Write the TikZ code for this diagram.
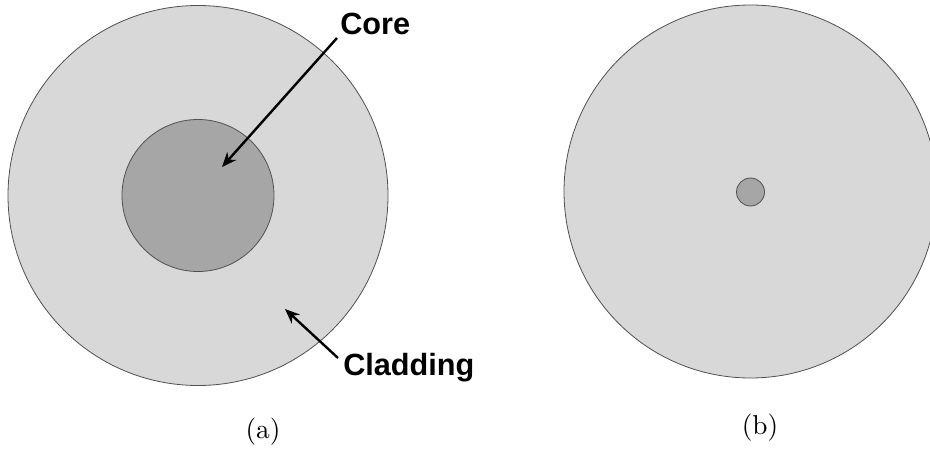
\documentclass[tikz,border=0pt]{standalone}
\usepackage{fontspec}
\usetikzlibrary{arrows.meta}
\newfontfamily\labelfont{Liberation Sans}
\newfontfamily\capfont{lmroman10-regular}[Extension=.otf]
\definecolor{claddinggray}{HTML}{D8D8D8}
\definecolor{coregray}{HTML}{A6A6A6}
\definecolor{rimgray}{HTML}{505050}

\begin{document}
\begin{tikzpicture}[x=0.75pt,y=-0.75pt,
  fiber/.style={circle,draw=rimgray,line width=0.6pt,inner sep=0pt,outer sep=0pt},
  tag/.style={inner sep=0pt,anchor=base west,font=\labelfont\bfseries\fontsize{23}{28}\selectfont},
  pointer/.style={line width=1.8pt,-{Stealth[length=11pt,width=9pt]}},
  caption/.style={font=\capfont\fontsize{20.5}{24}\selectfont}]
  \useasboundingbox (0,0) rectangle (930,449);
  %% (a) multimode fibre, wide core
  \node[fiber,fill=claddinggray,minimum size=285pt] (cladA) at (198,195.5) {};
  \node[fiber,fill=coregray,minimum size=114pt] (coreA) at (198,195.5) {};
  \node[tag] (corelbl) at (340,35) {Core};
  \node[tag] (cladlbl) at (343,375) {Cladding};
  \coordinate (coretip) at (222,167);
  \coordinate (cladtip) at (285,309);
  \draw[pointer] ([shift={(-3,3)}]corelbl.base west) -- (coretip);
  \draw[pointer] ([shift={(-5,-17)}]cladlbl.base west) -- (cladtip);
  \node[caption] (capA) at (263,432) {(a)};
  %% (b) single mode fibre, tiny core
  \node[fiber,fill=claddinggray,minimum size=279.75pt] (cladB) at (750.5,191.5) {};
  \node[fiber,fill=coregray,minimum size=21pt] (coreB) at (750.5,192) {};
  \node[caption] (capB) at (760,428) {(b)};
\end{tikzpicture}
\end{document}
